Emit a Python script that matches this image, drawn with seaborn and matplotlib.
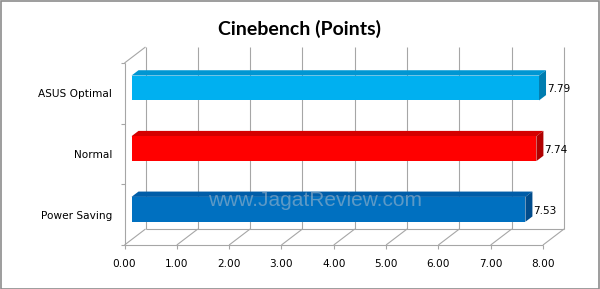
import numpy as np
import pandas as pd
import matplotlib
matplotlib.use("Agg")
import matplotlib.pyplot as plt
import seaborn as sns
from matplotlib.lines import Line2D
from matplotlib.patches import Polygon, Rectangle
from matplotlib.transforms import Affine2D, IdentityTransform

# ---- data ----
categories = ["ASUS Optimal", "Normal", "Power Saving"]
values = [7.79, 7.74, 7.53]
value_labels = ["7.79", "7.74", "7.53"]
x_ticks = [0, 1, 2, 3, 4, 5, 6, 7, 8]
x_tick_labels = ["0.00", "1.00", "2.00", "3.00", "4.00", "5.00", "6.00", "7.00", "8.00"]
title = "Cinebench (Points)"
watermark = "www.JagatReview.com"

front_colors = ["#00B0F0", "#FF0000", "#0070C0"]
top_colors = ["#0096D2", "#D40000", "#005DA8"]
side_colors = ["#007DB0", "#B00000", "#004C8C"]

W, H = 600, 289
sns.set_theme(style="white")
plt.rcParams["font.family"] = ["DejaVu Sans"]

fig = plt.figure(figsize=(W / 100, H / 100), dpi=100)
fig.patch.set_facecolor("white")

# front plane of the 3-D box (pixels)
left_px, right_px, top_px, bot_px = 124.5, 543.0, 63.0, 245.0
ax = fig.add_axes([left_px / W, 1 - bot_px / H, (right_px - left_px) / W, (bot_px - top_px) / H])
ax.set_facecolor("none")

df = pd.DataFrame({"cat": categories, "val": values})
sns.barplot(data=df, x="val", y="cat", hue="cat", palette=front_colors,
            orient="h", width=0.41, legend=False, ax=ax, saturation=1)
ax.set_xlim(0, 8)
ax.set_ylim(2.5, -0.5)
for s in ax.spines.values():
    s.set_visible(False)
ax.set_xlabel("")
ax.set_ylabel("")

GRID = "#A6A6A6"
LW = 0.8
D = np.array([21.0, 16.0])      # depth vector (display px, y up)
bd = D / 3.0                     # bar front offset and bar depth

ident = IdentityTransform()


def px(x, y):
    return np.array(ax.transData.transform((x, y)))


def line(p, q, z=0.5):
    ax.add_line(Line2D([p[0], q[0]], [p[1], q[1]], transform=ident, clip_on=False,
                       color=GRID, lw=LW, zorder=z, solid_capstyle="butt"))


# back wall verticals, floor diagonals
for xv in x_ticks:
    fb = px(xv, 2.5)
    ft = px(xv, -0.5)
    line(fb + D, ft + D)
    line(fb, fb + D)
# floor back edge, front edge, left wall
line(px(0, 2.5) + D, px(8, 2.5) + D)
line(px(0, 2.5), px(8, 2.5))
line(px(0, 2.5), px(0, -0.5))
line(px(0, -0.5), px(0, -0.5) + D)

# ticks
ax.set_xticks(x_ticks)
ax.set_xticklabels(x_tick_labels)
ax.set_yticks(range(len(categories)))
ax.set_yticklabels(categories)
ax.set_yticks([-0.5, 0.5, 1.5, 2.5], minor=True)
ax.tick_params(axis="y", which="major", length=0, pad=9, labelsize=7.6, labelcolor="black")
ax.tick_params(axis="y", which="minor", length=3, width=LW, color=GRID, left=True)
ax.tick_params(axis="x", which="major", length=3, width=LW, color=GRID, bottom=True,
               pad=7, labelsize=7.6, labelcolor="black")

# 3-D bars: shift front faces, add top and side faces
shift = Affine2D().translate(bd[0], bd[1])
for i, patch in enumerate(ax.patches):
    patch.set_transform(ax.transData + shift)
    patch.set_edgecolor("none")
    patch.set_zorder(3)
    x0, y0 = patch.get_x(), patch.get_y()
    w, h = patch.get_width(), patch.get_height()
    a = px(x0, y0) + bd
    b = px(x0 + w, y0) + bd
    c = px(x0 + w, y0 + h) + bd
    top_face = [a, b, b + bd, a + bd]
    side_face = [c, b, b + bd, c + bd]
    ax.add_patch(Polygon(top_face, closed=True, transform=ident, facecolor=top_colors[i],
                         edgecolor="none", zorder=2.9, clip_on=False))
    ax.add_patch(Polygon(side_face, closed=True, transform=ident, facecolor=side_colors[i],
                         edgecolor="none", zorder=2.9, clip_on=False))
    ly = (px(0, y0)[1] + px(0, y0 + h)[1]) / 2 + bd[1] - 1.5
    lx = b[0] + bd[0] + 1
    fig.text(lx / W, ly / H, value_labels[i], ha="left", va="center",
             fontsize=7.6, color="black", zorder=5)

# title
fig.text(0.5, 1 - 29 / H, title, ha="center", va="center", fontsize=14,
         fontweight="bold", family=["Lato", "DejaVu Sans"], color="black")

# watermark
fig.text(315 / W, 1 - 200 / H, watermark, ha="center", va="center", fontsize=15,
         family=["Liberation Sans", "DejaVu Sans"], color="#B8C2CC", alpha=0.5, zorder=10)

# outer border
fig.add_artist(Rectangle((0.5 / W, 0.5 / H), 1 - 1.5 / W, 1 - 1.5 / H, transform=fig.transFigure,
                         fill=False, edgecolor="#8C8C8C", lw=1.2))

fig.savefig("out.png", dpi=100)
